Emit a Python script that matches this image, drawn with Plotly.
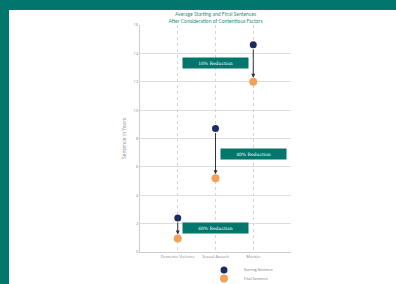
import plotly.graph_objects as go

categories = ["Domestic Violence", "Sexual Assault", "Murder"]
starting = [2.4, 8.7, 14.6]
final = [0.95, 5.2, 12.0]
reductions = ["60% Reduction", "40% Reduction", "18% Reduction"]
label_x = [1, 2, 1]
label_y = [1.7, 6.9, 13.3]
y_ticks = [0, 2, 4, 6, 8, 10, 12, 14, 16]

TEAL = "#00766c"
NAVY = "#1f2b5e"
ORANGE = "#f2a05a"

W, H = 396, 284
ML, MR, MT, MB = 140, 105, 25, 32
pw, ph = W - ML - MR, H - MT - MB

xpos = list(range(len(categories)))

fig = go.Figure()
fig.add_trace(go.Scatter(x=xpos, y=starting, mode="markers", name="Starting Sentence",
                         marker=dict(color=NAVY, size=7), cliponaxis=False, legend="legend"))
fig.add_trace(go.Scatter(x=xpos, y=final, mode="markers", name="Final Sentence",
                         marker=dict(color=ORANGE, size=8), cliponaxis=False, legend="legend2"))

for i in xpos:
    fig.add_annotation(x=i, y=final[i], ax=i, ay=starting[i], xref="x", yref="y",
                       axref="x", ayref="y", showarrow=True, arrowhead=2, arrowsize=0.8,
                       arrowwidth=1, arrowcolor="#333333", standoff=4, startstandoff=3, text="")
    fig.add_annotation(x=label_x[i], y=label_y[i], xref="x", yref="y", text=reductions[i],
                       showarrow=False, bgcolor=TEAL,
                       font=dict(color="white", size=4.5, family="DejaVu Serif"),
                       width=63, height=8, borderpad=1)

# decorative teal frame strips
fx0 = -ML / pw
fx1 = (W - ML) / pw
fy0 = -MB / ph
fy1 = (H - MB) / ph
fig.add_shape(type="rect", xref="paper", yref="paper", x0=fx0, x1=fx1,
              y0=(H - MB - 10) / ph, y1=fy1, fillcolor=TEAL, line_width=0, layer="below")
fig.add_shape(type="rect", xref="paper", yref="paper", x0=fx0, x1=fx0 + 9 / pw,
              y0=fy0, y1=fy1, fillcolor=TEAL, line_width=0, layer="below")

leg_common = dict(xref="container", yref="container", xanchor="left", yanchor="middle",
                  font=dict(size=3.5, color="#777777"), bgcolor="rgba(0,0,0,0)",
                  borderwidth=0, itemwidth=30)

fig.update_layout(
    width=W, height=H,
    margin=dict(l=ML, r=MR, t=MT, b=MB, autoexpand=False),
    paper_bgcolor="white", plot_bgcolor="white",
    title=dict(text="Average Starting and Final Sentences<br>After Consideration of Contentious Factors",
               x=(ML + pw / 2) / W, xanchor="center", y=1 - 16 / H, yanchor="middle", yref="container",
               font=dict(size=5, color="#1f8f80", family="Lato")),
    showlegend=True,
    legend=dict(x=204 / W, y=1 - 270 / H, **leg_common),
    legend2=dict(x=204 / W, y=1 - 278.5 / H, **leg_common),
    xaxis=dict(range=[-1, 3], tickvals=[-1, 0, 1, 2, 3],
               ticktext=[""] + categories + [""],
               showgrid=True, gridcolor="#d6d6d6", griddash="dot", gridwidth=1,
               zeroline=False, showline=True, linecolor="#cccccc", mirror=False,
               tickfont=dict(size=4, color="#888888"), ticks=""),
    yaxis=dict(range=[0, 16], tickvals=y_ticks, showgrid=True, gridcolor="#dddddd",
               gridwidth=1, zeroline=False, showline=True, linecolor="#cccccc",
               tickfont=dict(size=4, color="#888888"), ticks="",
               title=dict(text="Sentence in Years", font=dict(size=5, color="#888888"), standoff=6)),
)

fig.write_html("out.html", config={"displayModeBar": False},
               post_script="document.body.style.margin='0';")
